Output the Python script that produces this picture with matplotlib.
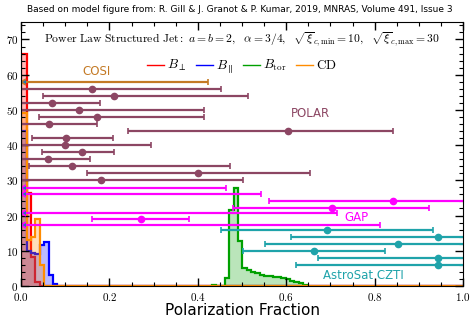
import numpy as np
import matplotlib
matplotlib.use('Agg')
import matplotlib.pyplot as plt
from matplotlib.lines import Line2D
from matplotlib.ticker import MultipleLocator, FuncFormatter

plt.rcParams['mathtext.fontset'] = 'cm'

# ---------------- data ----------------
# model histograms (bin heights)
low_first_edge = 0.0129
low_bin_width = 0.0099
b_perp_counts = [66, 26.5, 8.3, 1.2]
b_par_counts = [44, 10, 9.3, 9.0, 11.7, 12.6, 3.1, 0.6]
cd_counts = [49, 13, 14, 19, 6]

tor_first_edge = 0.4321
tor_bin_width = 0.0098
b_tor_counts = [0.4, 0, 0, 2.2, 21.5, 27.7, 12.7, 5.2, 4.4, 4.0, 3.6, 3.2, 2.9,
                2.7, 2.5, 2.4, 2.3, 2.0, 1.5, 1.1, 0.7, 0.4]

# COSI upper limit
cosi_y = [58]
cosi_ul = [0.424]

# POLAR measurements
polar_y = [56, 54, 52, 50, 48, 46, 44, 42, 40, 38, 36, 34, 32, 30]
polar_x = [0.160, 0.211, 0.071, 0.131, 0.171, 0.064, 0.603, 0.102, 0.0995,
           0.137, 0.060, 0.115, 0.401, 0.181]
polar_lo = [-0.13, 0.050, -0.037, -0.15, 0.041, -0.043, 0.241, 0.026, -0.095,
            0.048, -0.037, 0.018, 0.150, -0.14]
polar_hi = [0.452, 0.513, 0.179, 0.413, 0.413, 0.171, 0.842, 0.207, 0.294,
            0.211, 0.156, 0.473, 0.654, 0.502]

# GAP measurements and upper limits
gap_y = [24, 22, 19]
gap_x = [0.842, 0.703, 0.271]
gap_lo = [0.561, 0.480, 0.160]
gap_hi = [1.12, 0.924, 0.381]
gap_ul_y = [27.8, 26.0, 20.8, 17.3]
gap_ul = [0.464, 0.543, 0.714, 0.812]

# AstroSat CZTI measurements
czti_y = [16, 14, 12, 10, 8, 6]
czti_x = [0.692, 0.943, 0.854, 0.663, 0.943, 0.943]
czti_lo = [0.452, 0.611, 0.552, 0.502, 0.671, 0.622]
czti_hi = [0.933, 1.27, 1.156, 0.824, 1.215, 1.264]

x_ticks = [0.0, 0.2, 0.4, 0.6, 0.8, 1.0]
y_ticks = [0, 10, 20, 30, 40, 50, 60, 70]

# ---------------- colors ----------------
c_perp = '#ff0000'
c_par = '#0000ff'
c_tor = '#00a000'
c_cd = '#ff8c00'
c_cosi = '#c47a25'
c_polar = '#8c4663'
c_gap = '#ff00ff'
c_czti = '#1fa3aa'

fig = plt.figure(figsize=(4.72, 3.22), dpi=100)
ax = fig.add_axes([0.0445, 0.112, 0.9365, 0.82])

n_low = 101


def low_edges_counts(counts):
    c = np.zeros(n_low)
    c[:len(counts)] = counts
    edges = np.concatenate([[0.0], low_first_edge + low_bin_width * np.arange(n_low)])
    return c, edges


def tor_edges_counts(counts):
    c = np.asarray(counts, dtype=float)
    edges = tor_first_edge + tor_bin_width * np.arange(len(c) + 1)
    return c, edges


hists = [
    (low_edges_counts(b_perp_counts), c_perp),
    (low_edges_counts(b_par_counts), c_par),
    (tor_edges_counts(b_tor_counts), c_tor),
    (low_edges_counts(cd_counts), c_cd),
]
for (vals, edges), col in hists:
    ax.stairs(vals, edges, fill=True, color=col, alpha=0.27, lw=0)
    ax.stairs(vals, edges, color=col, lw=1.6)

capsize = 2.2
ekw = dict(capsize=capsize, elinewidth=1.6, capthick=1.2, markersize=4.5)
# caret tip of the upper-limit arrows sits at x=0 (caret reaches 0.75*2*capsize pt)
ax_width_px = 0.9365 * 472
caret_dx = 0.75 * 2 * capsize / 72 * 100 / ax_width_px

# COSI
ax.errorbar(cosi_ul, cosi_y, xerr=np.array(cosi_ul) - caret_dx, xuplims=True,
            fmt='none', ecolor=c_cosi, **ekw)

# POLAR
px = np.array(polar_x)
ax.errorbar(px, polar_y, xerr=[px - np.array(polar_lo), np.array(polar_hi) - px],
            fmt='o', color=c_polar, **ekw)

# GAP
gx = np.array(gap_x)
ax.errorbar(gx, gap_y, xerr=[gx - np.array(gap_lo), np.array(gap_hi) - gx],
            fmt='o', color=c_gap, **ekw)
ax.errorbar(gap_ul, gap_ul_y, xerr=np.array(gap_ul) - caret_dx, xuplims=True,
            fmt='none', ecolor=c_gap, **ekw)

# AstroSat CZTI
cx = np.array(czti_x)
ax.errorbar(cx, czti_y, xerr=[cx - np.array(czti_lo), np.array(czti_hi) - cx],
            fmt='o', color=c_czti, **ekw)

# labels
ax.text(0.171, 61, 'COSI', color=c_cosi, fontsize=8.5, ha='center', va='center')
ax.text(0.654, 48.9, 'POLAR', color=c_polar, fontsize=8.5, ha='center', va='center')
ax.text(0.758, 19.5, 'GAP', color=c_gap, fontsize=8.5, ha='center', va='center')
ax.text(0.774, 3.1, 'AstroSat CZTI', color=c_czti, fontsize=8.5, ha='center', va='center')

ax.text(0.5, 0.93,
        r'$\mathrm{Power\ Law\ Structured\ Jet:}\ a=b=2,\ \ \alpha=3/4,\ \ '
        r'\sqrt{\xi}_{c,\mathrm{min}}=10,\ \ \sqrt{\xi}_{c,\mathrm{max}}=30$',
        transform=ax.transAxes, ha='center', va='center', fontsize=8.4)

handles = [Line2D([], [], color=c, lw=1.0) for c in (c_perp, c_par, c_tor, c_cd)]
labels = [r'$B_\perp$', r'$B_\parallel$', r'$B_\mathrm{tor}$', r'$\mathrm{CD}$']
ax.legend(handles, labels, loc='center', bbox_to_anchor=(0.5, 0.83), ncol=4,
          frameon=False, fontsize=9.5, handlelength=1.25, handletextpad=0.25,
          columnspacing=0.75, borderpad=0, borderaxespad=0)

ax.set_xlim(0, 1)
ax.set_ylim(0, 75)
ax.set_xticks(x_ticks)
ax.set_yticks(y_ticks)
ax.xaxis.set_minor_locator(MultipleLocator(0.05))
ax.yaxis.set_minor_locator(MultipleLocator(2))
ax.xaxis.set_major_formatter(FuncFormatter(lambda v, p: f'${v:.1f}$'))
ax.yaxis.set_major_formatter(FuncFormatter(lambda v, p: f'${v:.0f}$'))
ax.tick_params(which='both', direction='in', top=True, right=True, labelsize=8)
ax.tick_params(which='major', length=6, width=1)
ax.tick_params(which='minor', length=3, width=0.8)
ax.tick_params(axis='y', pad=2)
ax.tick_params(axis='x', pad=4)
ax.set_xlabel('Polarization Fraction', fontsize=11, labelpad=0)

fig.text(0.508, 0.969,
         'Based on model figure from: R. Gill & J. Granot & P. Kumar, 2019, MNRAS, Volume 491, Issue 3',
         ha='center', va='center', fontsize=6.5)

fig.savefig('out.png', dpi=100)
